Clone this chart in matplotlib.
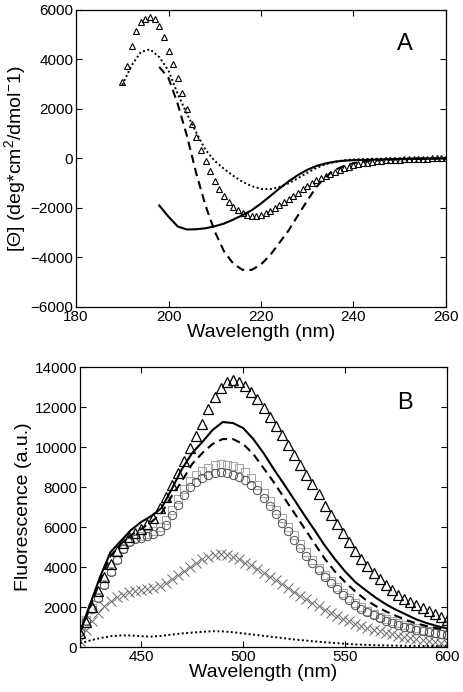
import numpy as np
import matplotlib
matplotlib.use('Agg')
import matplotlib.pyplot as plt

plt.rcParams['font.family'] = ['Liberation Sans', 'DejaVu Sans']
plt.rcParams['mathtext.fontset'] = 'custom'
plt.rcParams['mathtext.rm'] = 'Liberation Sans'
plt.rcParams['mathtext.it'] = 'Liberation Sans:italic'

# Panel A: CD spectra ----------------------------------------------------------
cd_tri_wl = np.arange(190, 261, 1)
cd_tri = [3100, 3750, 4550, 5150, 5500, 5650, 5700, 5650, 5350, 4900,
          4350, 3800, 3250, 2650, 2000, 1400, 850, 350, -100, -500,
          -900, -1230, -1520, -1750, -1950, -2100, -2210, -2290, -2320, -2320,
          -2290, -2220, -2130, -2020, -1900, -1770, -1640, -1510, -1380, -1250,
          -1120, -1000, -890, -790, -700, -610, -530, -460, -390, -330,
          -280, -240, -200, -170, -140, -120, -100, -80, -70, -60,
          -50, -40, -30, -20, -15, -10, -5, 0, 5, 10, 20]

cd_dot_wl = np.arange(190, 261, 2)
cd_dot = [2970, 3750, 4300, 4410, 4100, 3550, 2600, 1800, 1050, 350,
          -100, -420, -700, -940, -1120, -1230, -1240, -1150, -1000, -800,
          -580, -380, -230, -130, -70, -40, -25, -15, -10, -5,
          0, 0, 0, 0, 0, 0]

cd_line_wl = np.arange(198, 261, 2)
cd_dash = [3700, 3250, 2200, 900, -600, -1900, -2950, -3750, -4250, -4500,
           -4500, -4280, -3900, -3400, -2900, -2300, -1700, -1150, -730, -460,
           -300, -190, -130, -90, -60, -40, -30, -20, -10, -5, 0, 0]
cd_solid = [-1900, -2350, -2750, -2870, -2860, -2820, -2740, -2630, -2470, -2290,
            -2090, -1820, -1520, -1210, -920, -670, -460, -300, -200, -130,
            -90, -70, -60, -50, -40, -30, -25, -20, -15, -10, -5, 0]

# Panel B: fluorescence spectra --------------------------------------------------
fl_wl = np.arange(420, 601, 3)
fl_tri = [700, 1250, 2000, 2800, 3500, 4150, 4800, 5200, 5500, 5700,
          5900, 6150, 6450, 6950, 7500, 8100, 8700, 9300, 9950, 10550,
          11150, 11900, 12500, 12950, 13250, 13350, 13250, 13050, 12750, 12400,
          11950, 11500, 11050, 10600, 10100, 9600, 9100, 8600, 8150, 7650,
          7050, 6600, 6150, 5700, 5250, 4800, 4400, 4050, 3700, 3400,
          3100, 2850, 2600, 2400, 2250, 2100, 1950, 1800, 1650, 1500, 1350]
fl_sq = [800, 1350, 1950, 2500, 3150, 3800, 4400, 4950, 5300, 5450,
         5550, 5650, 5800, 6000, 6350, 6850, 7400, 7900, 8300, 8600,
         8800, 8950, 9100, 9150, 9120, 9050, 8950, 8750, 8450, 8120,
         7700, 7300, 6850, 6450, 6000, 5600, 5150, 4750, 4350, 3950,
         3600, 3300, 3000, 2700, 2450, 2200, 2000, 1820, 1650, 1520,
         1400, 1280, 1180, 1090, 1010, 930, 860, 790, 720, 660, 600]
fl_circ = [750, 1300, 1900, 2450, 3100, 3750, 4350, 4900, 5250, 5400,
           5450, 5550, 5650, 5800, 6100, 6600, 7100, 7600, 8000, 8250,
           8450, 8600, 8700, 8750, 8700, 8620, 8500, 8350, 8100, 7830,
           7450, 7050, 6650, 6200, 5800, 5350, 4950, 4550, 4200, 3850,
           3500, 3200, 2880, 2600, 2350, 2120, 1920, 1750, 1580, 1440,
           1300, 1190, 1100, 1010, 940, 860, 800, 740, 690, 640, 600]
fl_x = [300, 850, 1300, 1700, 2050, 2300, 2500, 2620, 2730, 2800,
        2840, 2880, 2950, 3060, 3200, 3400, 3600, 3800, 4000, 4200,
        4380, 4520, 4620, 4670, 4620, 4520, 4380, 4220, 4080, 3900,
        3720, 3520, 3330, 3140, 2950, 2750, 2560, 2380, 2200, 2030,
        1860, 1710, 1550, 1420, 1290, 1170, 1060, 970, 870, 790,
        700, 630, 570, 510, 450, 390, 340, 290, 250, 220, 180]

fl_line_wl = np.arange(420, 601, 5)
fl_solid = [750, 2150, 3550, 4750, 5300, 5850, 6250, 6550, 6950, 7900,
            8900, 9700, 10250, 10850, 11250, 11200, 10950, 10400, 9700, 8900,
            8150, 7380, 6600, 5850, 5080, 4400, 3780, 3250, 2850, 2470,
            2140, 1860, 1620, 1380, 1200, 1050, 930]
fl_dash = [700, 2000, 3350, 4550, 5150, 5600, 5900, 6250, 6700, 7550,
           8300, 9150, 9700, 10150, 10400, 10400, 10150, 9650, 8950, 8250,
           7480, 6720, 5950, 5180, 4420, 3780, 3250, 2780, 2370, 2050,
           1780, 1560, 1350, 1180, 1050, 940, 850]
fl_dot = [180, 330, 450, 540, 580, 580, 540, 520, 560, 620,
          680, 720, 760, 790, 780, 740, 680, 620, 560, 500,
          440, 380, 330, 280, 240, 200, 160, 130, 110, 90,
          80, 70, 60, 55, 50, 45, 40]

fig = plt.figure(figsize=(4.64, 6.92), dpi=100)
axA = fig.add_axes([0.1638, 0.5564, 0.7974, 0.4292])
axB = fig.add_axes([0.1724, 0.065, 0.791, 0.4046])

# panel A
axA.plot(cd_tri_wl, cd_tri, linestyle='none', marker='^', markersize=4.8,
         markerfacecolor='none', markeredgecolor='black', markeredgewidth=0.8)
axA.plot(cd_dot_wl, cd_dot, color='black', linestyle=(0, (1, 1.3)), linewidth=1.4)
axA.plot(cd_line_wl, cd_dash, color='black', linestyle=(0, (4, 2.5)), linewidth=1.5)
axA.plot(cd_line_wl, cd_solid, color='black', linestyle='-', linewidth=1.5)
axA.set_xlim(180, 260)
axA.set_ylim(-6000, 6000)
axA.set_xticks(range(180, 261, 20))
axA.set_yticks(range(-6000, 6001, 2000))
axA.set_xlabel('Wavelength (nm)', fontsize=14, labelpad=0)
axA.set_ylabel('[Θ] (deg*cm$^2$/dmol$^{-}$1)', fontsize=14, labelpad=2)
axA.text(0.889, 0.886, 'A', transform=axA.transAxes, fontsize=17,
         ha='center', va='center')

# panel B
axB.plot(fl_wl, fl_x, linestyle='none', marker='x', markersize=6.5,
         markeredgecolor='#6a6a6a', markeredgewidth=0.7)
axB.plot(fl_wl, fl_sq, linestyle='none', marker='s', markersize=6,
         markerfacecolor='none', markeredgecolor='#a8a8a8', markeredgewidth=0.8)
axB.plot(fl_wl, fl_circ, linestyle='none', marker='o', markersize=6,
         markerfacecolor='none', markeredgecolor='#505050', markeredgewidth=0.7)
axB.plot(fl_wl, fl_tri, linestyle='none', marker='^', markersize=6.5,
         markerfacecolor='none', markeredgecolor='black', markeredgewidth=0.9)
axB.plot(fl_line_wl, fl_solid, color='black', linestyle='-', linewidth=1.5)
axB.plot(fl_line_wl, fl_dash, color='black', linestyle=(0, (4, 2.5)), linewidth=1.5)
axB.plot(fl_line_wl, fl_dot, color='black', linestyle=(0, (1, 1.3)), linewidth=1.4)
axB.set_xlim(420, 600)
axB.set_ylim(0, 14000)
axB.set_xticks([450, 500, 550, 600])
axB.set_yticks(range(0, 14001, 2000))
axB.set_xlabel('Wavelength (nm)', fontsize=14, labelpad=0)
axB.set_ylabel('Fluorescence (a.u.)', fontsize=14, labelpad=2)
axB.text(0.886, 0.871, 'B', transform=axB.transAxes, fontsize=17,
         ha='center', va='center')

for ax in (axA, axB):
    ax.tick_params(direction='in', top=True, right=True, length=4, width=0.8,
                   labelsize=11, pad=2)
    for s in ax.spines.values():
        s.set_linewidth(0.9)

fig.savefig('out.png', dpi=100)
